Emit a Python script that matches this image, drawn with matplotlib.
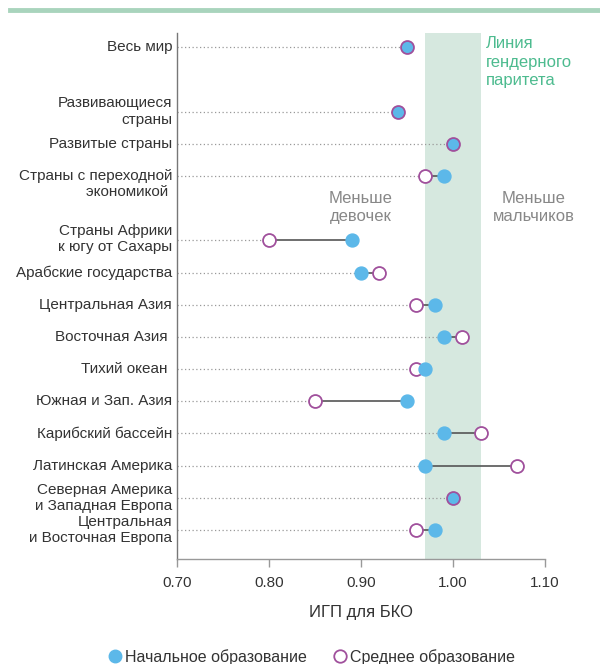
import matplotlib
matplotlib.use("Agg")
import matplotlib.pyplot as plt
from matplotlib.lines import Line2D

plt.rcParams['font.family'] = ['Liberation Sans', 'DejaVu Sans']

categories = [
    "Весь мир",
    "Развивающиеся\nстраны",
    "Развитые страны",
    "Страны с переходной\nэкономикой ",
    "Страны Африки\nк югу от Сахары",
    "Арабские государства",
    "Центральная Азия",
    "Восточная Азия ",
    "Тихий океан ",
    "Южная и Зап. Азия",
    "Карибский бассейн",
    "Латинская Америка",
    "Северная Америка\nи Западная Европа",
    "Центральная\nи Восточная Европа",
]
row_slots = [0, 2, 3, 4, 6, 7, 8, 9, 10, 11, 12, 13, 14, 15]
label_shift = [0, 0, 0, 0.26, -0.05, 0, 0, 0, 0, 0, 0, 0, 0, 0]
primary = [0.95, 0.94, 1.00, 0.99, 0.89, 0.90, 0.98, 0.99, 0.97, 0.95, 0.99, 0.97, 1.00, 0.98]
secondary = [0.95, 0.94, 1.00, 0.97, 0.80, 0.92, 0.96, 1.01, 0.96, 0.85, 1.03, 1.07, 1.00, 0.96]
xticks = [0.70, 0.80, 0.90, 1.00, 1.10]
xtick_labels = ["0.70", "0.80", "0.90", "1.00", "1.10"]

BLUE = "#5cb8e9"
PURPLE = "#a0509c"
GREEN_BAND = "#d6e8df"
GREEN_TEXT = "#4dbb8f"
TEXT = "#333333"
GRAY = "#888888"

fig = plt.figure(figsize=(6.0, 6.64), dpi=100)
ax = fig.add_axes([177/600, 1-559/664, (545-177)/600, (559-33)/664])

ax.set_xlim(0.70, 1.10)
ax.set_ylim(15.9, -0.44)

ax.axvspan(0.97, 1.03, color=GREEN_BAND, zorder=0, lw=0)

for y, p, s in zip(row_slots, primary, secondary):
    lo = min(p, s)
    ax.plot([0.70, lo], [y, y], ls=(0, (1, 2)), color="#999999", lw=0.9, zorder=1)
    if p != s:
        ax.plot([p, s], [y, y], color="#555555", lw=1.2, zorder=2)

for y, p, s in zip(row_slots, primary, secondary):
    if p == s:
        ax.plot([p], [y], 'o', ms=9.3, mfc=BLUE, mec=PURPLE, mew=1.3, zorder=4)
    else:
        ax.plot([s], [y], 'o', ms=9.3, mfc="white", mec=PURPLE, mew=1.3, zorder=3)
        ax.plot([p], [y], 'o', ms=9.3, mfc=BLUE, mec=BLUE, mew=1.0, zorder=4)

ax.set_yticks([])
for lab, y, sh in zip(categories, row_slots, label_shift):
    ax.text(-0.013, y + sh, lab, transform=ax.get_yaxis_transform(), ha='right', va='center',
            fontsize=11, color=TEXT, linespacing=1.2)

ax.set_xticks(xticks)
ax.set_xticklabels(xtick_labels, fontsize=11, color=TEXT)
ax.tick_params(axis='x', direction='out', length=6, width=1, color="#999999", pad=6)
for side in ['top', 'right']:
    ax.spines[side].set_visible(False)
ax.spines['left'].set_color("#777777")
ax.spines['bottom'].set_color("#999999")
ax.spines['left'].set_linewidth(1)
ax.spines['bottom'].set_linewidth(1)
ax.set_xlabel("ИГП для БКО", fontsize=12, color=TEXT, labelpad=11)

ax.text(1.0355, 0.47, "Линия\nгендерного\nпаритета", color=GREEN_TEXT, fontsize=12,
        ha='left', va='center', linespacing=1.3)
ax.text(0.90, 4.97, "Меньше\nдевочек", color=GRAY, fontsize=12, ha='center', va='center', linespacing=1.25)
ax.text(1.088, 4.97, "Меньше\nмальчиков", color=GRAY, fontsize=12, ha='center', va='center', linespacing=1.25)

# top decorative bar
fig.add_artist(Line2D([10/600, 1.0], [1-10/664, 1-10/664], transform=fig.transFigure,
                      color="#a9d4bd", lw=3.5))

handles = [
    Line2D([], [], marker='o', ls='none', ms=9, mfc=BLUE, mec=BLUE),
    Line2D([], [], marker='o', ls='none', ms=9, mfc="white", mec=PURPLE, mew=1.3),
]
fig.legend(handles, ["Начальное образование", "Среднее образование"], loc='center',
           bbox_to_anchor=(311/600, 1-657/664), ncol=2, frameon=False, fontsize=11.5,
           handletextpad=0.1, columnspacing=1.6, handlelength=1.0, labelcolor=TEXT)

fig.savefig("out.png", dpi=100)
